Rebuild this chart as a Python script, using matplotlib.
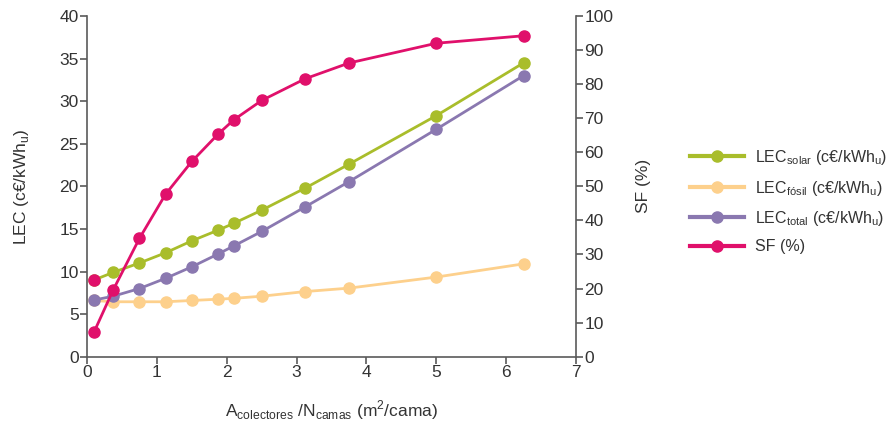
import matplotlib
matplotlib.use("Agg")
import matplotlib.pyplot as plt

plt.rcParams['font.family'] = ['Liberation Sans', 'DejaVu Sans']
plt.rcParams['mathtext.fontset'] = 'custom'
plt.rcParams['mathtext.rm'] = 'Liberation Sans'

# datos
area = [0.1, 0.375, 0.75, 1.125, 1.5, 1.875, 2.1, 2.5, 3.125, 3.75, 5.0, 6.25]
lec_solar = [9.0, 9.9, 11.0, 12.2, 13.6, 14.85, 15.65, 17.2, 19.8, 22.6, 28.3, 34.5]
lec_fosil = [6.6, 6.45, 6.45, 6.45, 6.6, 6.75, 6.85, 7.1, 7.65, 8.05, 9.35, 10.9]
lec_total = [6.65, 7.1, 8.0, 9.2, 10.55, 12.05, 13.0, 14.7, 17.6, 20.55, 26.7, 33.0]
sf = [7.2, 19.6, 34.7, 47.7, 57.3, 65.3, 69.5, 75.2, 81.6, 86.2, 92.0, 94.2]

c_solar = '#a9bd2b'
c_fosil = '#fdd08c'
c_total = '#8a78b0'
c_sf = '#e0106b'
c_txt = '#333333'
c_axis = '#5a5a5a'

fig = plt.figure(figsize=(8.95, 4.24), dpi=100)
ax = fig.add_axes([87 / 895, 1 - 356.7 / 424, (576 - 87) / 895, (356.7 - 16) / 424])
ax2 = ax.twinx()

lw, ms = 2.0, 8
l_fosil, = ax.plot(area, lec_fosil, color=c_fosil, lw=lw, marker='o', ms=ms, zorder=2)
l_solar, = ax.plot(area, lec_solar, color=c_solar, lw=lw, marker='o', ms=ms, zorder=3)
l_total, = ax.plot(area, lec_total, color=c_total, lw=lw, marker='o', ms=ms, zorder=4)
# el primer punto solar aparece en rosa en el original
ax.plot(area[:1], lec_solar[:1], ls='none', marker='o', ms=ms, color=c_sf, zorder=5)

l_sf, = ax2.plot(area, sf, color=c_sf, lw=lw, marker='o', ms=ms, zorder=5)

ax.set_xlim(0, 7)
ax.set_ylim(0, 40)
ax2.set_ylim(0, 100)
ax.set_xticks(range(0, 8))
ax.set_yticks(range(0, 41, 5))
ax2.set_yticks(range(0, 101, 10))

# SF encima de las demas series
ax2.set_zorder(ax.get_zorder() + 1)
ax2.patch.set_visible(False)

for s in ['top', 'right']:
    ax.spines[s].set_visible(False)
for s in ['top', 'left', 'bottom']:
    ax2.spines[s].set_visible(False)
for a in (ax, ax2):
    for s in a.spines.values():
        s.set_color(c_axis)
        s.set_linewidth(1.2)
    a.tick_params(colors=c_axis, labelcolor=c_txt, labelsize=12.5, length=5, width=1.2, pad=1)

ax.set_ylabel('LEC (c€/kWh$_{\\mathregular{u}}$)', fontsize=12.5, color=c_txt, labelpad=20)
ax2.set_ylabel('SF (%)', fontsize=12.5, color=c_txt, labelpad=16)
ax.set_xlabel('A$_{\\mathregular{colectores}}$ /N$_{\\mathregular{camas}}$ (m$^{\\mathregular{2}}$/cama)',
              fontsize=12.5, color=c_txt, labelpad=13)

labels = ['LEC$_{\\mathregular{solar}}$ (c€/kWh$_{\\mathregular{u}}$)',
          'LEC$_{\\mathregular{fósil}}$ (c€/kWh$_{\\mathregular{u}}$)',
          'LEC$_{\\mathregular{total}}$ (c€/kWh$_{\\mathregular{u}}$)',
          'SF (%)']
leg = fig.legend([l_solar, l_fosil, l_total, l_sf], labels, loc='upper left',
                 bbox_to_anchor=(690 / 895, 1 - 148 / 424), frameon=False,
                 fontsize=11.5, handlelength=3.4, handletextpad=0.7, labelspacing=0.72,
                 borderaxespad=0, borderpad=0)
for t in leg.get_texts():
    t.set_color(c_txt)
for h in leg.legend_handles:
    h.set_linewidth(3)

fig.savefig('out.png', dpi=100)
